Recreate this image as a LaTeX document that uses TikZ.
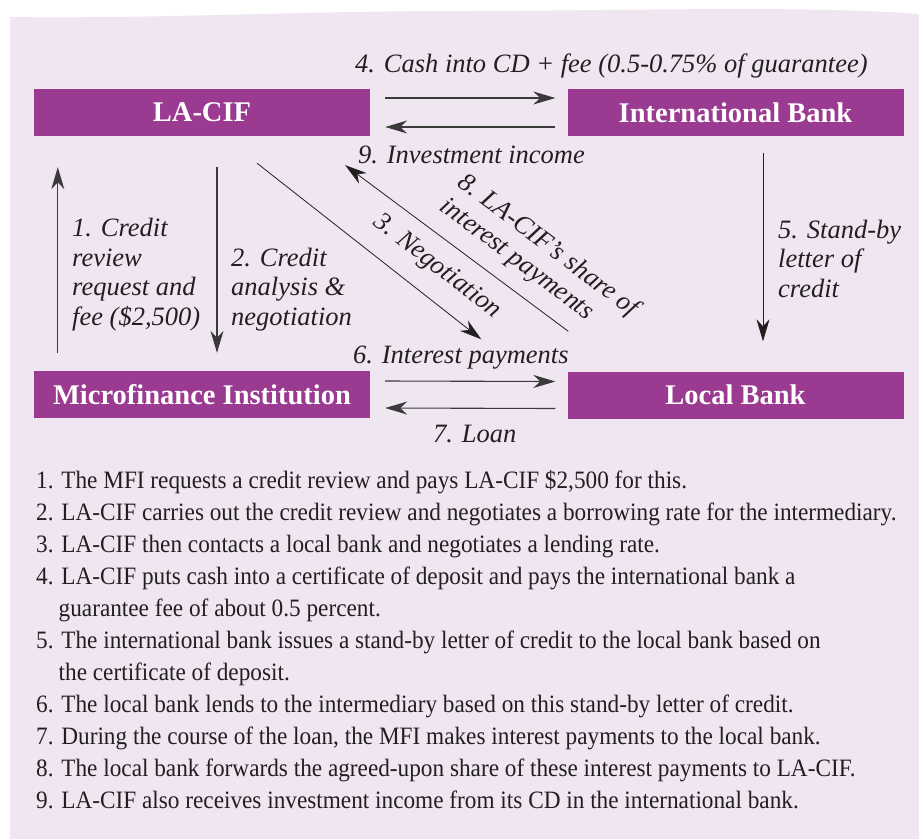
\documentclass[tikz,border=0pt]{standalone}
\usepackage{fontspec}
\setmainfont{Liberation Serif}
\newfontfamily\listfont[FakeStretch=0.93]{Liberation Serif}
\usetikzlibrary{arrows.meta,positioning,calc}
\definecolor{boxpurple}{HTML}{9A3A91}
\definecolor{panelpink}{HTML}{F0E6F2}
\definecolor{arrowgray}{HTML}{3A3A3A}
\definecolor{inkblack}{HTML}{231F20}
\tikzset{
  party/.style={fill=boxpurple, text=white, font=\fontsize{28.5}{30}\selectfont\bfseries,
    minimum width=336pt, minimum height=47pt, inner sep=0pt},
  flow/.style={draw=arrowgray, line width=1.1pt, -{Stealth[length=22pt,width=13pt,inset=7pt]}},
  thinflow/.style={flow, draw=inkblack, line width=0.8pt},
  flowlabel/.style={font=\fontsize{26.5}{29.5}\selectfont\itshape, text=inkblack,
    align=left, inner sep=0pt, anchor=base west},
}
\begin{document}
\begin{tikzpicture}[x=1pt,y=-1pt]
  \useasboundingbox (0,0) rectangle (919,839);
  \fill[panelpink] (10,839) -- (10,17) .. controls (150,19) and (300,11) .. (460,11)
    .. controls (620,11) and (800,5) .. (919,14) -- (919,839) -- cycle;

  \node[party] (cif)   at (202,112.5) {LA-CIF};
  \node[party] (intl)  at (735.5,112.5) {International Bank};
  \node[party] (mfi)   at (202,394.5) {Microfinance Institution};
  \node[party] (local) at (735.5,395) {Local Bank};

  \draw[flow] ([shift={(15,-14.5)}]cif.east) -- ([shift={(-12,-14.5)}]intl.west);
  \draw[flow] ([shift={(-12,14.5)}]intl.west) -- ([shift={(15,14.5)}]cif.east);
  \draw[flow] ([shift={(15,-13.5)}]mfi.east) -- ([shift={(-12,-13.5)}]local.west);
  \draw[flow] ([shift={(-12,13.5)}]local.west) -- ([shift={(15,13.5)}]mfi.east);
  \draw[flow] ([shift={(24,-18)}]mfi.north west) -- ([shift={(24,31)}]cif.south west);
  \draw[flow] ([shift={(15,31)}]cif.south) -- ([shift={(15,-18)}]mfi.north);
  \draw[thinflow] ([shift={(27.5,17)}]intl.south) -- ([shift={(27.5,-30)}]local.north);
  \draw[thinflow] ([shift={(55,27)}]cif.south) -- ([shift={(-86,-32)}]local.north west);
  \draw[thinflow] ([shift={(1,-40)}]local.north west) -- ([shift={(-25,29)}]cif.south east);

  \node[flowlabel] (l4) at (355,72) {4. Cash into CD + fee (0.5-0.75\% of guarantee)};
  \node[flowlabel] (l9) at (358,163) {9. Investment income};
  \node[flowlabel] (l6) at (353,363) {6. Interest payments};
  \node[flowlabel] (l7) at (433,442) {7. Loan};
  \node[flowlabel] (l1) at (72,325) {1. Credit\\review\\request and\\fee (\$2,500)};
  \node[flowlabel] (l2) at (231,325) {2. Credit\\analysis \&\\negotiation};
  \node[flowlabel] (l5) at (778,297) {5. Stand-by\\letter of\\credit};
  \node[flowlabel, anchor=center, rotate=-38] (l3) at (437,267) {3. Negotiation};
  \node[flowlabel, anchor=center, rotate=-37] (l8) at (539,258) {8. LA-CIF's share of\\interest payments};

  \node[anchor=base west, align=left, inner sep=0pt, text=inkblack,
    font=\listfont\fontsize{25}{32}\selectfont] (notes) at (36,808) {%
    1. The MFI requests a credit review and pays LA-CIF \$2,500 for this.\\
    2. LA-CIF carries out the credit review and negotiates a borrowing rate for the intermediary.\\
    3. LA-CIF then contacts a local bank and negotiates a lending rate.\\
    4. LA-CIF puts cash into a certificate of deposit and pays the international bank a\\
    \hspace*{0.9em}guarantee fee of about 0.5 percent.\\
    5. The international bank issues a stand-by letter of credit to the local bank based on\\
    \hspace*{0.9em}the certificate of deposit.\\
    6. The local bank lends to the intermediary based on this stand-by letter of credit.\\
    7. During the course of the loan, the MFI makes interest payments to the local bank.\\
    8. The local bank forwards the agreed-upon share of these interest payments to LA-CIF.\\
    9. LA-CIF also receives investment income from its CD in the international bank.};
\end{tikzpicture}
\end{document}
